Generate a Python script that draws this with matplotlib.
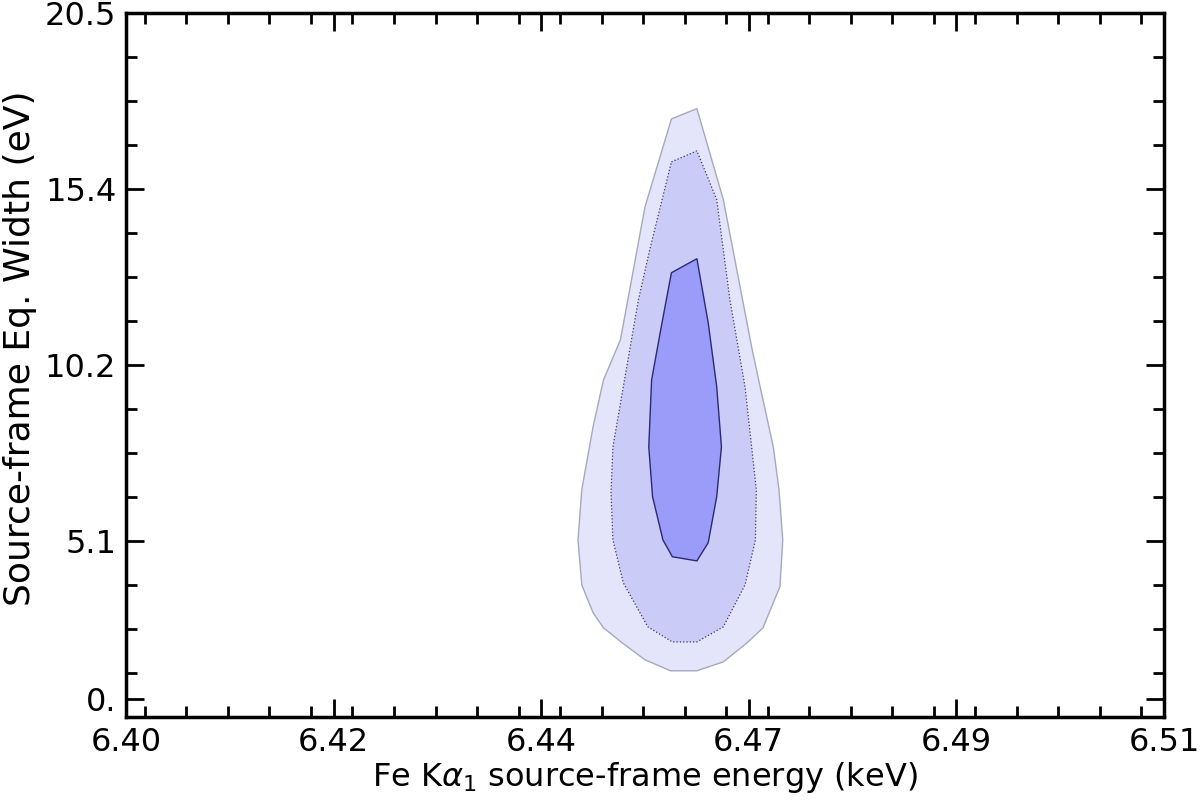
import matplotlib
matplotlib.use("Agg")
import matplotlib.pyplot as plt
from matplotlib.ticker import FixedLocator, MultipleLocator

# confidence contours: (energy keV, EW eV)
outer_e = [6.4578, 6.4605, 6.4633, 6.4663, 6.4672, 6.4686, 6.4692, 6.4696, 6.4693,
           6.4675, 6.4658, 6.4633, 6.4605, 6.4577, 6.4550, 6.4526, 6.4506, 6.4495,
           6.4483, 6.4479, 6.4483, 6.4495, 6.4506, 6.4524, 6.4550]
outer_w = [17.41, 17.71, 15.06, 10.77, 9.61, 7.86, 6.61, 5.15, 3.79,
           2.59, 2.15, 1.60, 1.34, 1.34, 1.66, 2.15, 2.59, 3.03,
           3.84, 5.15, 6.61, 8.45, 9.81, 10.98, 14.85]

mid_e = [6.4578, 6.4605, 6.4626, 6.4640, 6.4656, 6.4663, 6.4668, 6.4667, 6.4656,
         6.4633, 6.4605, 6.4579, 6.4553, 6.4527, 6.4516, 6.4514, 6.4516, 6.4527,
         6.4543, 6.4555]
mid_w = [16.16, 16.48, 15.06, 12.14, 9.61, 7.86, 6.61, 5.15, 3.84,
         2.62, 2.18, 2.18, 2.62, 3.90, 5.15, 6.52, 7.86, 9.61,
         12.14, 13.60]

inner_e = [6.4578, 6.4605, 6.4617, 6.4626, 6.4631, 6.4626, 6.4617, 6.4605, 6.4579,
           6.4569, 6.4558, 6.4554, 6.4557, 6.4568]
inner_w = [12.93, 13.34, 11.47, 9.61, 7.86, 6.41, 5.07, 4.54, 4.66,
           5.15, 6.41, 7.86, 9.81, 11.47]

xticks = [6.40, 6.422, 6.444, 6.466, 6.488, 6.51]
xlabels = ["6.40", "6.42", "6.44", "6.47", "6.49", "6.51"]
yticks = [0.52, 5.125, 10.25, 15.375, 20.5]
ylabels = ["0.", "5.1", "10.2", "15.4", "20.5"]

fig = plt.figure(figsize=(12, 8), dpi=100)
ax = fig.add_axes([0.105, 0.104, 0.865, 0.88])

ax.fill(outer_e, outer_w, facecolor="#e4e4fb", edgecolor="#a8a8bc", lw=1.0)
ax.fill(mid_e, mid_w, facecolor="#cbcbf8", edgecolor="#3a3a5e", lw=0.9, ls=":")
ax.fill(inner_e, inner_w, facecolor="#9b9bf9", edgecolor="#2a2a70", lw=1.0)

ax.set_xlim(6.40, 6.51)
ax.set_ylim(0, 20.5)

ax.xaxis.set_major_locator(FixedLocator(xticks))
ax.set_xticklabels(xlabels)
ax.xaxis.set_minor_locator(MultipleLocator(0.0044))
ax.yaxis.set_major_locator(FixedLocator(yticks))
ax.set_yticklabels(ylabels)
ax.yaxis.set_minor_locator(MultipleLocator(20.5 / 16))

ax.tick_params(which="both", direction="in", top=True, right=True, width=2)
ax.tick_params(which="major", length=13, labelsize=23, pad=7)
ax.tick_params(which="minor", length=8)
for s in ax.spines.values():
    s.set_linewidth(2.5)

ax.set_xlabel(r"Fe K$\alpha_1$ source-frame energy (keV)", fontsize=23, labelpad=2)
ax.set_ylabel("Source-frame Eq. Width (eV)", fontsize=26)
ax.yaxis.set_label_coords(-0.086, 0.524)

fig.savefig("out.png", dpi=100)
